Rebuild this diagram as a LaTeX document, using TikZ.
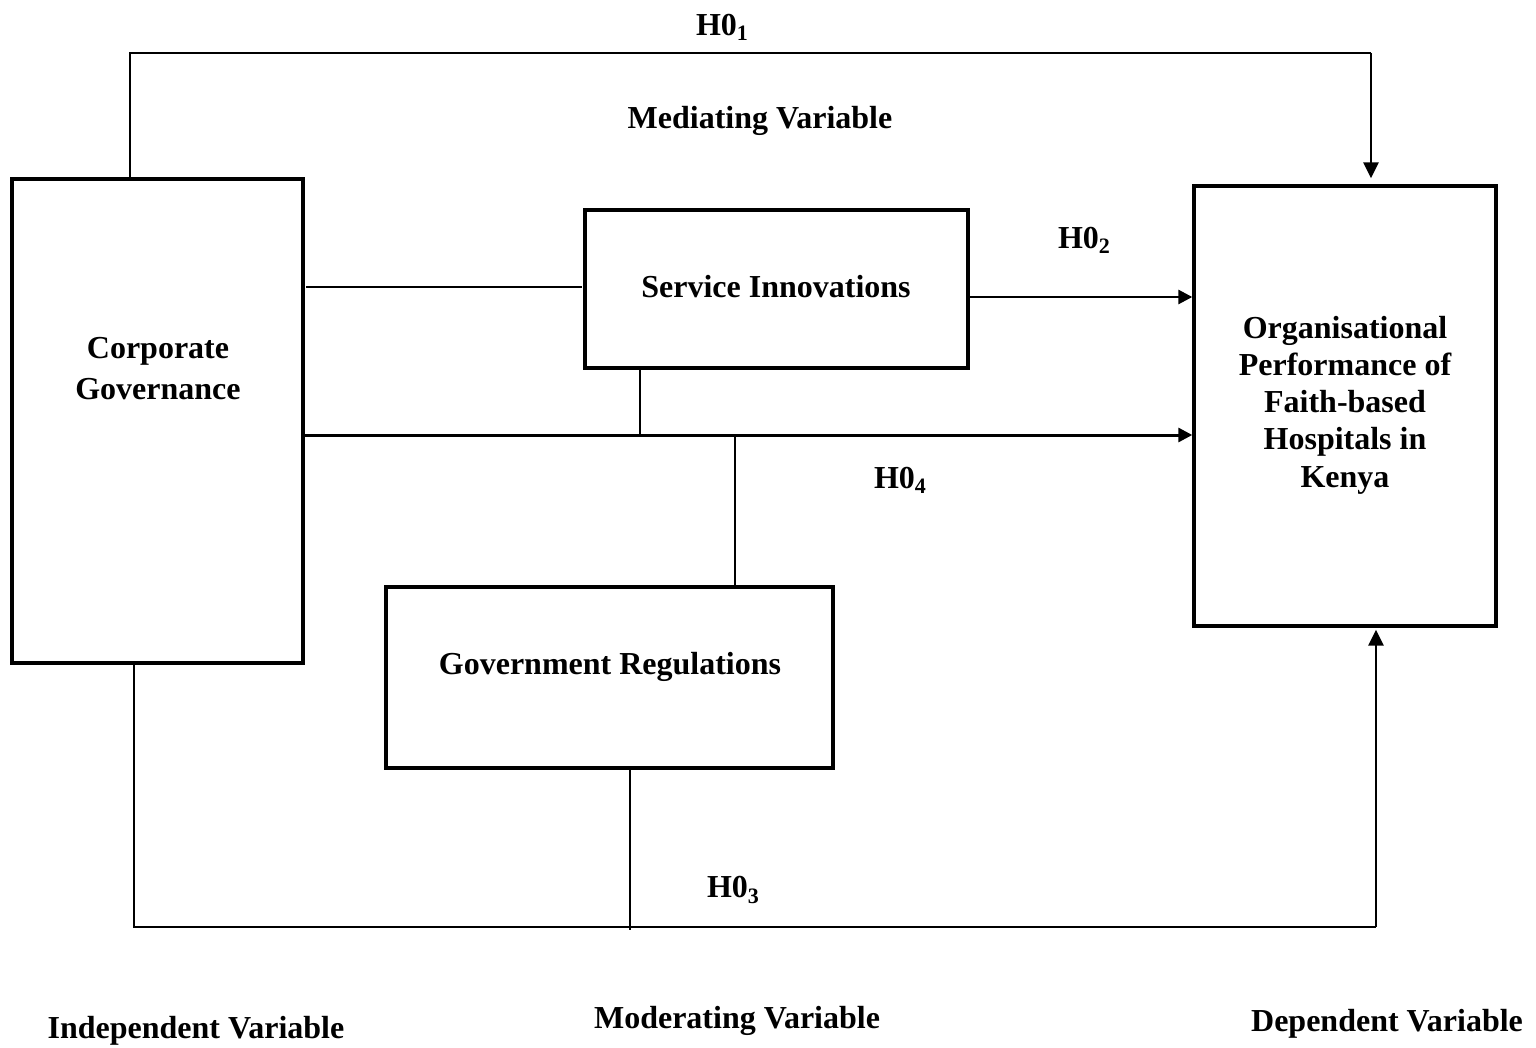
\documentclass[tikz,border=0pt]{standalone}
\usepackage{fontspec}
\setmainfont{Liberation Serif}
\usetikzlibrary{arrows.meta}
\newcommand{\hsub}[1]{\raisebox{-0.35ex}{\fontsize{11}{11}\selectfont #1}}
\begin{document}
\begin{tikzpicture}[x=0.5pt,y=-0.5pt,
  box/.style={draw, line width=1.7pt, rectangle, inner sep=0pt},
  lbl/.style={font=\bfseries\fontsize{16}{19}\selectfont, align=center, inner sep=0pt, yshift=-1.5pt},
  thinl/.style={line width=0.7pt},
  arr/.style={line width=1.4pt, -{Triangle[length=7pt,width=7pt]}},
  arrv/.style={line width=1.4pt, -{Triangle[length=8pt,width=7.5pt]}}]
\useasboundingbox (0,0) rectangle (1536,1048);
% boxes
\node[box, minimum width=145.5pt, minimum height=242pt] (cg) at (157.5,421) {};
\node[box, minimum width=191.5pt, minimum height=79pt] (si) at (776.5,289) {};
\node[box, minimum width=151pt, minimum height=220pt] (op) at (1345,406) {};
\node[box, minimum width=223.5pt, minimum height=90.5pt] (gr) at (609.5,677.5) {};
% box texts
\node[lbl, font=\bfseries\fontsize{16}{20.5}\selectfont] (cgt) at (158,366) {Corporate\\Governance};
\node[lbl] (sit) at (776,284) {Service Innovations};
\node[lbl, font=\bfseries\fontsize{16}{18.6}\selectfont] (opt) at (1345,402) {Organisational\\Performance of\\Faith-based\\Hospitals in\\Kenya};
\node[lbl] (grt) at (610,664) {Government Regulations};
% other labels
\node[lbl] (h1) at (722,24) {H0\hsub{1}};
\node[lbl] (mv) at (760,118) {Mediating Variable};
\node[lbl] (h2) at (1084,237) {H0\hsub{2}};
\node[lbl] (h4) at (900,477) {H0\hsub{4}};
\node[lbl] (h3) at (733,887) {H0\hsub{3}};
\node[lbl] (iv) at (196,1028) {Independent Variable};
\node[lbl] (modv) at (737,1018) {Moderating Variable};
\node[lbl] (dv) at (1387,1021) {Dependent Variable};
% coordinates
\coordinate (t1) at (130,53);
\coordinate (t2) at (1371,53);
\coordinate (b1) at (134,927);
\coordinate (b2) at (1376,927);
\coordinate (sil) at (306,287);
\coordinate (sir) at (582,287);
\coordinate (j1) at (640,435);
\coordinate (j2) at (735,435);
\coordinate (grb) at (630,930);
% connectors
\draw[thinl] (t1 |- cg.north) -- (t1) -- (t2);
\draw[arrv] (t2) -- ([yshift=3pt]t2 |- op.north);
\draw[thinl] (sil) -- (sir);
\draw[arr] (si.east |- 0,297) -- (op.west |- 0,297);
\draw[line width=1.5pt, -{Triangle[length=7pt,width=7pt]}] (cg.east |- j1) -- (op.west |- j1);
\draw[thinl] (si.south -| j1) -- (j1);
\draw[thinl] (j2) -- (gr.north -| j2);
\draw[thinl] (b1 |- cg.south) -- (b1) -- (b2);
\draw[arrv] (b2) -- ([yshift=-1pt]b2 |- op.south);
\draw[thinl] (gr.south -| grb) -- (grb);
\end{tikzpicture}
\end{document}
